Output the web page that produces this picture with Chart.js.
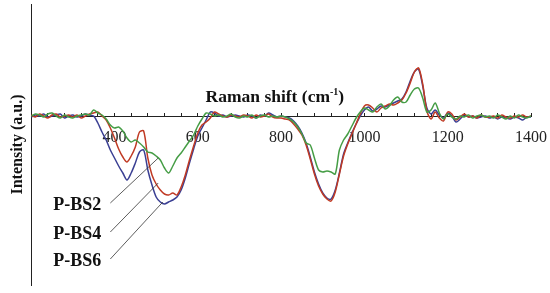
<!DOCTYPE html>
<html>
<head>
<meta charset="utf-8">
<script src="https://cdn.jsdelivr.net/npm/chart.js"></script>
<style>
  html, body { margin: 0; padding: 0; background: #fff; }
  #wrap { width: 550px; height: 293px; }
</style>
</head>
<body>
<div id="wrap"><canvas id="raman"></canvas></div>
<script>
// Raman shift (cm-1), every 10 from 200 to 1400
const shift = [
  200, 210, 220, 230, 240, 250, 260, 270, 280, 290,
  300, 310, 320, 330, 340, 350, 360, 370, 380, 390,
  400, 410, 420, 430, 440, 450, 460, 470, 480, 490,
  500, 510, 520, 530, 540, 550, 560, 570, 580, 590,
  600, 610, 620, 630, 640, 650, 660, 670, 680, 690,
  700, 710, 720, 730, 740, 750, 760, 770, 780, 790,
  800, 810, 820, 830, 840, 850, 860, 870, 880, 890,
  900, 910, 920, 930, 940, 950, 960, 970, 980, 990,
  1000, 1010, 1020, 1030, 1040, 1050, 1060, 1070, 1080, 1090,
  1100, 1110, 1120, 1130, 1140, 1150, 1160, 1170, 1180, 1190,
  1200, 1210, 1220, 1230, 1240, 1250, 1260, 1270, 1280, 1290,
  1300, 1310, 1320, 1330, 1340, 1350, 1360, 1370, 1380, 1390,
  1400
];

const pbs2 = [
  0, 2, 1, -1, 2, 3, 0, -2, 1, -1,
  -2, 0, 1, 2, 1, 6, 3, 1, -3, -9,
  -12, -11, -15, -22, -26, -24, -27, -31, -36, -37,
  -40, -44, -52, -57, -50, -42, -37, -31, -25, -19,
  -10, -3, 3, 2, 0, 1, -1, 0, 2, -1,
  -2, 0, -1, 1, -2, 0, 1, -1, 0, -1,
  0, -1, -3, -6, -11, -18, -27, -29, -42, -54,
  -56, -55, -56, -58, -34, -24, -18, -10, -2, 4,
  8, 6, 4, 9, 12, 7, 10, 16, 19, 14,
  14, 21, 27, 28, 18, 4, 6, 13, 3, -3,
  2, -1, -3, 0, -1, 1, -2, 0, 1, -1,
  0, -2, 1, -1, -3, 0, -2, 1, -1, -2,
  0
];

const pbs4 = [
  1, -1, 2, 0, -2, 1, 2, -1, 0, 1,
  -1, 1, -2, 0, 2, 3, 4, 0, -4, -12,
  -22, -33, -41, -46, -40, -31, -16, -15, -42, -59,
  -68, -74, -78, -79, -77, -79, -71, -59, -44, -30,
  -17, -9, -6, -2, 4, 2, 0, -1, 1, 0,
  -1, 1, 0, -2, 1, -1, 0, 2, -1, -2,
  -2, -3, -4, -8, -13, -19, -29, -43, -58, -70,
  -78, -83, -85, -76, -58, -40, -28, -18, -8, 2,
  10, 11, 8, 4, 8, 10, 12, 11, 13, 16,
  23, 33, 44, 48, 32, 5, -3, 4, -2, -5,
  4, 2, -4, -1, 2, -1, 0, -2, 1, -1,
  -1, 0, -2, 1, -1, -2, 0, -1, 1, -1,
  0
];

const pbs6 = [
  -1, 1, 0, 2, -1, 0, 1, 2, -2, 0,
  1, -1, 0, 2, 1, 0, -7, -16, -24, -34,
  -42, -50, -57, -64, -57, -47, -36, -34, -54, -69,
  -81, -86, -88, -86, -84, -81, -74, -62, -47, -33,
  -20, -12, -4, 4, 3, 0, 1, -1, 0, 1,
  0, -1, 1, 0, -2, 1, 0, 3, 1, -1,
  0, -1, -2, -5, -10, -17, -27, -41, -56, -68,
  -77, -82, -83, -74, -57, -38, -27, -17, -8, 0,
  6, 9, 5, 7, 10, 9, 11, 13, 15, 17,
  24, 35, 44, 47, 30, 8, 2, 6, 1, -2,
  3, 0, -6, -3, 1, -1, 0, -2, -1, 0,
  -2, -1, -3, -1, -2, -3, -1, -2, -4, -1,
  -1
];

const seriesNames = ['P-BS2', 'P-BS4', 'P-BS6'];
const seriesColors = ['#459d45', '#c03a24', '#3a3f93'];
const xLabels = [400, 600, 800, 1000, 1200, 1400];

// leader lines: [label anchor, point on curve] in data units
const leaderFrom = [[390, -87], [390, -116], [390, -143]];
const leaderTo = [[505, -42], [505, -67], [516, -86]];

const serif = "'Liberation Serif', 'Times New Roman', serif";

const toXY = ys => ys.map((y, i) => ({ x: shift[i], y }));

const annotations = {
  id: 'annotations',
  afterDatasetsDraw(chart) {
    const { ctx, scales: { x, y } } = chart;
    ctx.save();
    // axis title above the zero line, with superscript
    ctx.fillStyle = '#111';
    ctx.textBaseline = 'alphabetic';
    const big = 'bold 17.5px ' + serif;
    const small = 'bold 10px ' + serif;
    ctx.font = big;
    const a = 'Raman shift (cm', b = ')';
    ctx.font = small;
    const supW = ctx.measureText('-1').width;
    ctx.font = big;
    const total = ctx.measureText(a).width + supW + ctx.measureText(b).width;
    let tx = x.getPixelForValue(785) - total / 2;
    const ty = y.getPixelForValue(0) - 14;
    ctx.fillText(a, tx, ty);
    tx += ctx.measureText(a).width;
    ctx.font = small;
    ctx.fillText('-1', tx, ty - 7);
    tx += supW;
    ctx.font = big;
    ctx.fillText(b, tx, ty);

    // series labels and leader lines
    ctx.strokeStyle = '#333';
    ctx.lineWidth = 0.8;
    ctx.font = 'bold 18px ' + serif;
    ctx.textAlign = 'right';
    ctx.textBaseline = 'middle';
    seriesNames.forEach((name, i) => {
      const x0 = x.getPixelForValue(leaderFrom[i][0]);
      const y0 = y.getPixelForValue(leaderFrom[i][1]);
      const x1 = x.getPixelForValue(leaderTo[i][0]);
      const y1 = y.getPixelForValue(leaderTo[i][1]);
      ctx.beginPath();
      ctx.moveTo(x0, y0);
      ctx.lineTo(x1, y1);
      ctx.stroke();
      ctx.fillText(name, x0 - 9, y0 + 2);
    });
    ctx.restore();
  }
};

new Chart(document.getElementById('raman'), {
  type: 'line',
  data: {
    datasets: [pbs2, pbs4, pbs6].map((ys, i) => ({
      label: seriesNames[i],
      data: toXY(ys),
      borderColor: seriesColors[i],
      borderWidth: 1.5,
      pointRadius: 0,
      tension: 0.3,
      fill: false
    }))
  },
  options: {
    responsive: true,
    maintainAspectRatio: false,
    animation: false,
    layout: { padding: { left: 4, right: 19, top: 4, bottom: 8 } },
    plugins: {
      legend: { display: false },
      tooltip: { enabled: false }
    },
    scales: {
      x: {
        type: 'linear',
        position: { y: 0 },
        min: 200,
        max: 1400,
        afterFit: s => { s.paddingLeft = 0; s.paddingRight = 0; },
        grid: { drawOnChartArea: false, drawTicks: true, tickLength: -4, color: '#222' },
        border: { display: true, color: '#222', width: 1 },
        ticks: {
          stepSize: 40,
          autoSkip: false,
          maxRotation: 0,
          padding: 16,
          color: '#222',
          font: { family: serif, size: 16 },
          callback: v => xLabels.includes(v) ? String(v) : ''
        }
      },
      y: {
        type: 'linear',
        min: -169,
        max: 112,
        grid: { display: false, drawTicks: false },
        border: { display: true, color: '#222', width: 1 },
        ticks: { display: false },
        title: {
          display: true,
          text: 'Intensity (a.u.)',
          color: '#111',
          font: { family: serif, size: 16, weight: 'bold' },
          padding: { top: 4, bottom: 4 }
        }
      }
    }
  },
  plugins: [annotations]
});
</script>
</body>
</html>
